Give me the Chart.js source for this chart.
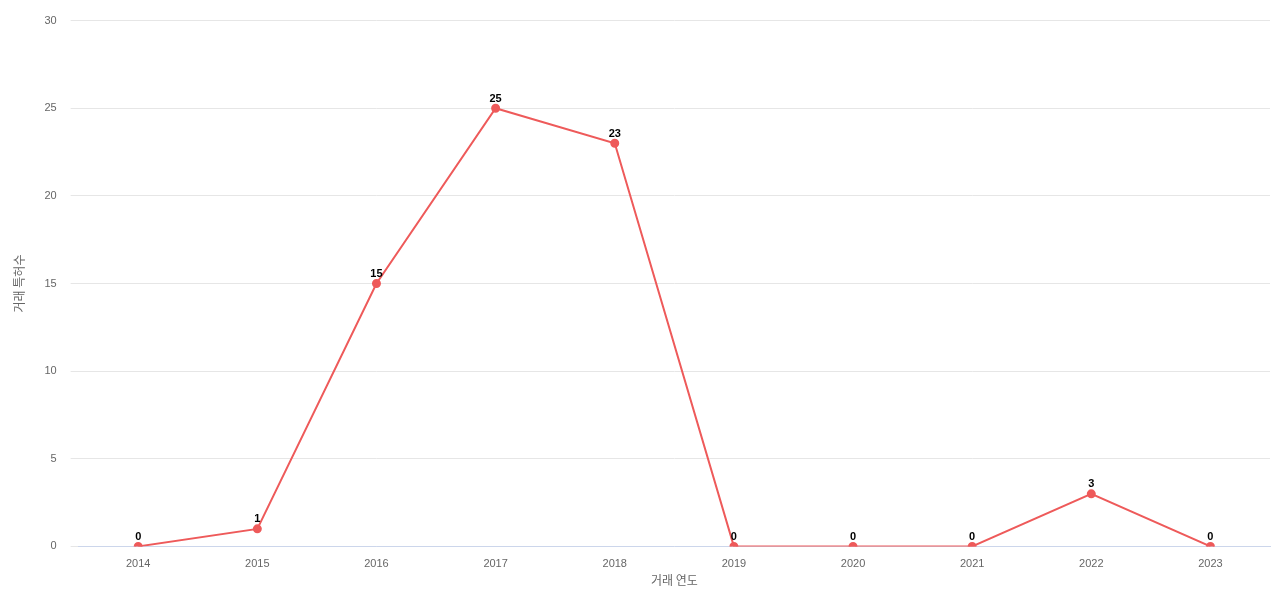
<!DOCTYPE html>
<html>
<head>
<meta charset="utf-8">
<script src="https://cdn.jsdelivr.net/npm/chart.js@4"></script>
<style>
  html, body { margin: 0; padding: 0; background: #fff; }
  #wrap { width: 1280px; height: 600px; }
</style>
</head>
<body>
<div id="wrap"><canvas id="tradeChart"></canvas></div>
<script>
const years = ["2014", "2015", "2016", "2017", "2018", "2019", "2020", "2021", "2022", "2023"];
const counts = [0, 1, 15, 25, 23, 0, 0, 0, 3, 0];
const yTicks = [0, 5, 10, 15, 20, 25, 30];

// labels above each point
const pointLabels = {
  id: "pointLabels",
  afterDatasetsDraw(chart) {
    const ctx = chart.ctx;
    const meta = chart.getDatasetMeta(0);
    ctx.save();
    ctx.font = "bold 11px 'Liberation Sans', Arial, sans-serif";
    ctx.fillStyle = "#000";
    ctx.textAlign = "center";
    ctx.textBaseline = "bottom";
    meta.data.forEach((pt, i) => {
      ctx.fillText(String(counts[i]), pt.x, pt.y - 4);
    });
    ctx.restore();
  },
};

const ctx = document.getElementById("tradeChart").getContext("2d");
new Chart(ctx, {
  type: "line",
  data: {
    labels: years,
    datasets: [
      {
        label: "거래 특허수",
        data: counts,
        borderColor: "#ee5a5a",
        backgroundColor: "#ee5a5a",
        borderWidth: 2,
        pointRadius: 3.5,
        pointHoverRadius: 4.5,
        tension: 0,
        fill: false,
      },
    ],
  },
  plugins: [pointLabels],
  options: {
    responsive: true,
    maintainAspectRatio: false,
    animation: false,
    layout: { padding: { top: 0, right: 10, left: 8, bottom: 8 } },
    plugins: {
      legend: { display: false },
      tooltip: { enabled: false },
    },
    scales: {
      x: {
        offset: true,
        grid: { display: false },
        border: { color: "#ccd6eb" },
        ticks: { color: "#666", font: { size: 11, family: "'Liberation Sans', Arial, sans-serif" } },
        title: { display: true, text: "거래 연도", color: "#666", font: { size: 12, family: "'Noto Sans CJK KR', sans-serif" }, padding: { top: 0 } },
      },
      y: {
        min: 0,
        max: 30,
        afterBuildTicks(axis) { axis.ticks = yTicks.map(v => ({ value: v })); },
        grid: { color: "#e6e6e6" },
        border: { display: false },
        ticks: { color: "#666", padding: 14, font: { size: 11, family: "'Liberation Sans', Arial, sans-serif" } },
        title: { display: true, text: "거래 특허수", color: "#666", font: { size: 12, family: "'Noto Sans CJK KR', sans-serif" } },
      },
    },
  },
});
</script>
</body>
</html>
